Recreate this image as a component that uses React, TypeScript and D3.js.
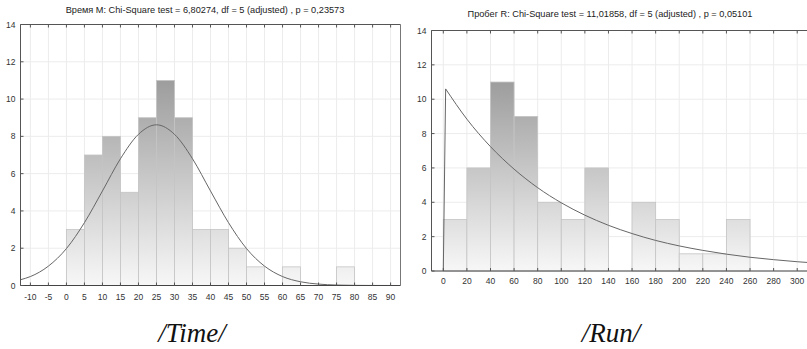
import React from "react";
import { scaleLinear, line, curveMonotoneX, curveLinear } from "d3";

// --- data ---
const yTicks = [0, 2, 4, 6, 8, 10, 12, 14];

const timeTitle = "Время M: Chi-Square test = 6,80274, df = 5 (adjusted) , p = 0,23573";
const timeTicks = [-10, -5, 0, 5, 10, 15, 20, 25, 30, 35, 40, 45, 50, 55, 60, 65, 70, 75, 80, 85, 90];
const timeBinStart = [0, 5, 10, 15, 20, 25, 30, 35, 40, 45, 50, 55, 60, 65, 70, 75];
const timeCounts = [3, 7, 8, 5, 9, 11, 9, 3, 3, 2, 1, 0, 1, 0, 0, 1];
const timeBinWidth = 5;
// fitted normal curve, read at 5-unit steps
const timeCurveX = [-12.75, -10, -5, 0, 5, 10, 15, 20, 25, 30, 35, 40, 45, 50, 55, 60, 65, 70, 75, 80, 85, 92.75];
const timeCurveY = [0.31, 0.48, 1.04, 1.98, 3.37, 5.07, 6.8, 8.11, 8.62, 8.11, 6.8, 5.07, 3.37, 1.98, 1.04, 0.48, 0.2, 0.075, 0.025, 0.007, 0.002, 0];

const runTitle = "Пробег R: Chi-Square test = 11,01858, df = 5 (adjusted) , p = 0,05101";
const runTicks = [0, 20, 40, 60, 80, 100, 120, 140, 160, 180, 200, 220, 240, 260, 280, 300];
const runBinStart = [0, 20, 40, 60, 80, 100, 120, 140, 160, 180, 200, 220, 240];
const runCounts = [3, 6, 11, 9, 4, 3, 6, 0, 4, 3, 1, 1, 3];
const runBinWidth = 20;
// fitted exponential curve
const runRiseX = [0, 2];
const runRiseY = [0, 10.6];
const runCurveX = [2, 20, 40, 60, 80, 100, 120, 140, 160, 180, 200, 220, 240, 260, 280, 300, 310];
const runCurveY = [10.6, 8.84, 7.24, 5.93, 4.85, 3.97, 3.25, 2.66, 2.18, 1.78, 1.46, 1.2, 0.98, 0.8, 0.66, 0.54, 0.49];

const W = 807;
const H = 349;
const font = "'Liberation Sans', Arial, sans-serif";

type PanelProps = {
  id: string;
  title: string;
  titleX: number;
  titleY: number;
  xDomain: [number, number];
  xRange: [number, number];
  yRange: [number, number];
  ticks: number[];
  binStart: number[];
  counts: number[];
  binWidth: number;
  curves: { xs: number[]; ys: number[]; smooth: boolean }[];
  rightFrame: boolean;
  xLabelOffset: number;
};

const Panel = (p: PanelProps) => {
  const x = scaleLinear().domain(p.xDomain).range(p.xRange);
  const y = scaleLinear().domain([0, 14]).range(p.yRange);
  const [x0, x1] = p.xRange;
  const [yb, yt] = p.yRange;
  const clipId = "clip-" + p.id;
  const gradId = "grad-" + p.id;

  return (
    <g>
      <defs>
        <clipPath id={clipId}>
          <rect x={x0} y={yt} width={x1 - x0} height={yb - yt} />
        </clipPath>
        <linearGradient id={gradId} gradientUnits="userSpaceOnUse" x1={0} x2={0} y1={y(0)} y2={y(12)}>
          <stop offset="0" stopColor="#f7f7f7" />
          <stop offset="1" stopColor="#959595" />
        </linearGradient>
      </defs>

      {/* grid */}
      {p.ticks.map((t) => (
        <line key={"gx" + t} x1={x(t)} x2={x(t)} y1={yt} y2={yb} stroke="#ececec" strokeWidth={1} />
      ))}
      {yTicks.map((t) => (
        <line key={"gy" + t} x1={x0} x2={x1} y1={y(t)} y2={y(t)} stroke="#ececec" strokeWidth={1} />
      ))}

      {/* bars */}
      {p.binStart.map((b, i) =>
        p.counts[i] > 0 ? (
          <rect
            key={"b" + b}
            x={x(b)}
            y={y(p.counts[i])}
            width={x(b + p.binWidth) - x(b)}
            height={y(0) - y(p.counts[i])}
            fill={`url(#${gradId})`}
            stroke="#c4c4c4"
            strokeWidth={0.8}
          />
        ) : null
      )}

      {/* curves */}
      <g clipPath={`url(#${clipId})`}>
        {p.curves.map((c, k) => {
          const pts: [number, number][] = c.xs.map((v, i) => [v, c.ys[i]]);
          const gen = line<[number, number]>()
            .x((d) => x(d[0]))
            .y((d) => y(d[1]))
            .curve(c.smooth ? curveMonotoneX : curveLinear);
          return <path key={"c" + k} d={gen(pts) || ""} fill="none" stroke="#666" strokeWidth={1} />;
        })}
      </g>

      {/* frame */}
      <line x1={x0} x2={x1} y1={yt} y2={yt} stroke="#555" strokeWidth={1} />
      <line x1={x0} x2={x0} y1={yt} y2={yb} stroke="#555" strokeWidth={1} />
      <line x1={x0} x2={x1} y1={yb} y2={yb} stroke="#444" strokeWidth={1} />
      {p.rightFrame && <line x1={x1} x2={x1} y1={yt} y2={yb} stroke="#777" strokeWidth={1} />}

      {/* x ticks */}
      {p.ticks.map((t) => (
        <g key={"tx" + t}>
          <line x1={x(t)} x2={x(t)} y1={yb} y2={yb - 3} stroke="#555" />
          <line x1={x(t)} x2={x(t)} y1={yt} y2={yt + 3} stroke="#555" />
          <text x={x(t)} y={yb + p.xLabelOffset} textAnchor="middle" fontSize={8.5} fontFamily={font} fill="#333">
            {t}
          </text>
        </g>
      ))}

      {/* y ticks */}
      {yTicks.map((t) => (
        <g key={"ty" + t}>
          <line x1={x0} x2={x0 + 3} y1={y(t)} y2={y(t)} stroke="#555" />
          <text x={x0 - 5} y={y(t) + 3} textAnchor="end" fontSize={8.5} fontFamily={font} fill="#333">
            {t}
          </text>
        </g>
      ))}

      <text x={p.titleX} y={p.titleY} textAnchor="middle" fontSize={9.2} fontFamily={font} fill="#222">
        {p.title}
      </text>
    </g>
  );
};

const captionStyle: React.CSSProperties = {
  fontFamily: "Liberation Serif, DejaVu Serif, serif",
  fontStyle: "italic",
  fontSize: "27px",
};

const App = () => {
  return (
    <div style={{ position: "absolute", left: 0, top: 0 }}>
      <svg width={W} height={H} style={{ display: "block", background: "#fff" }}>
        <Panel
          id="time"
          title={timeTitle}
          titleX={205}
          titleY={13}
          xDomain={[-12.75, 92.75]}
          xRange={[20.5, 400.5]}
          yRange={[285.5, 24.5]}
          ticks={timeTicks}
          binStart={timeBinStart}
          counts={timeCounts}
          binWidth={timeBinWidth}
          curves={[{ xs: timeCurveX, ys: timeCurveY, smooth: true }]}
          rightFrame={true}
          xLabelOffset={14}
        />
        <Panel
          id="run"
          title={runTitle}
          titleX={610}
          titleY={17}
          xDomain={[-10, 310]}
          xRange={[431.5, 809]}
          yRange={[271, 30.5]}
          ticks={runTicks}
          binStart={runBinStart}
          counts={runCounts}
          binWidth={runBinWidth}
          curves={[
            { xs: runRiseX, ys: runRiseY, smooth: false },
            { xs: runCurveX, ys: runCurveY, smooth: true },
          ]}
          rightFrame={false}
          xLabelOffset={13}
        />
        <text x={192} y={342} textAnchor="middle" style={captionStyle} fill="#111">
          /Time/
        </text>
        <text x={611} y={342} textAnchor="middle" style={captionStyle} fill="#111">
          /Run/
        </text>
      </svg>
    </div>
  );
};

export default App;
